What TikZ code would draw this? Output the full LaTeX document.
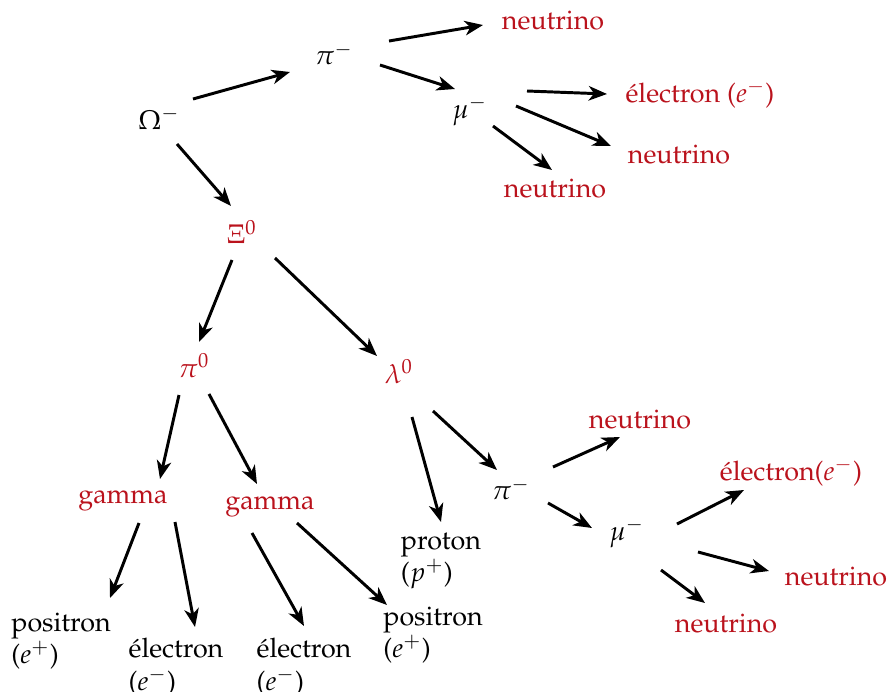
\documentclass[tikz,border=0pt]{standalone}
\usepackage[T1]{fontenc}
\usepackage{mathpazo}
\usetikzlibrary{arrows.meta}
\definecolor{pred}{RGB}{186,18,28}
\tikzset{
  lbl/.style={inner sep=0pt, outer sep=0pt, text=black},
  rlbl/.style={lbl, text=pred},
  arr/.style={line width=1.1pt, -{Stealth[length=6.8pt,width=5.4pt,inset=2pt]}}
}
\begin{document}
\begin{tikzpicture}[x=0.372pt,y=-0.372pt]
\useasboundingbox (0,0) rectangle (888,692);
% nodes
\node[lbl]  (om)   at (159,118) {$\Omega^-$};
\node[lbl]  (pia)  at (334,54)  {$\pi^-$};
\node[rlbl] (nua)  at (553,20)  {neutrino};
\node[lbl]  (mua)  at (470,111) {$\mu^-$};
\node[rlbl] (ela)  at (700,94)  {\'electron ($e^-$)};
\node[rlbl] (nub)  at (679,154) {neutrino};
\node[rlbl] (nuc)  at (555,188) {neutrino};
\node[rlbl] (xi)   at (242,232) {$\Xi^0$};
\node[rlbl] (piz)  at (194,366) {$\pi^0$};
\node[rlbl] (lam)  at (399,372) {$\lambda^0$};
\node[rlbl] (gaa)  at (123,501) {gamma};
\node[rlbl] (gab)  at (270,507) {gamma};
\node[lbl,align=left] (prot) at (441,561) {proton\\($p^+$)};
\node[lbl]  (pib)  at (511,489) {$\pi^-$};
\node[rlbl] (nud)  at (640,419) {neutrino};
\node[lbl]  (mub)  at (627,533) {$\mu^-$};
\node[rlbl] (elb)  at (791,472) {\'electron($e^-$)};
\node[rlbl] (nue)  at (836,576) {neutrino};
\node[rlbl] (nuf)  at (726,623) {neutrino};
\node[lbl,align=left] (posa) at (61,641)  {positron\\($e^+$)};
\node[lbl,align=left] (elc)  at (176,667) {\'electron\\($e^-$)};
\node[lbl,align=left] (eld)  at (304,667) {\'electron\\($e^-$)};
\node[lbl,align=left] (posb) at (433,635) {positron\\($e^+$)};
% connectors
\draw[arr] ([shift={(34,-19)}]om.center)  -- ([shift={(-44,18)}]pia.center);
\draw[arr] ([shift={(55,-13)}]pia.center) -- ([shift={(-70,5)}]nua.center);
\draw[arr] ([shift={(46,11)}]pia.center)  -- ([shift={(-15,-22)}]mua.center);
\draw[arr] ([shift={(57,-20)}]mua.center) -- ([shift={(-93,0)}]ela.center);
\draw[arr] ([shift={(46,-5)}]mua.center)  -- ([shift={(-68,-8)}]nub.center);
\draw[arr] ([shift={(23,15)}]mua.center)  -- ([shift={(-3,-18)}]nuc.center);
\draw[arr] ([shift={(18,26)}]om.center)   -- ([shift={(-11,-26)}]xi.center);
\draw[arr] ([shift={(-10,28)}]xi.center)  -- ([shift={(5,-24)}]piz.center);
\draw[arr] ([shift={(33,26)}]xi.center)   -- ([shift={(-22,-16)}]lam.center);
\draw[arr] ([shift={(-15,29)}]piz.center) -- ([shift={(37,-22)}]gaa.center);
\draw[arr] ([shift={(15,28)}]piz.center)  -- ([shift={(-13,-23)}]gab.center);
\draw[arr] ([shift={(16,22)}]gaa.center)  -- ([shift={(49,-43)}]posa.center);
\draw[arr] ([shift={(52,21)}]gaa.center)  -- ([shift={(19,-40)}]elc.center);
\draw[arr] ([shift={(-18,26)}]gab.center) -- ([shift={(0,-41)}]eld.center);
\draw[arr] ([shift={(27,16)}]gab.center)  -- ([shift={(-46,-30)}]posb.center);
\draw[arr] ([shift={(13,45)}]lam.center)  -- ([shift={(0,-39)}]prot.center);
\draw[arr] ([shift={(34,39)}]lam.center)  -- ([shift={(-14,-19)}]pib.center);
\draw[arr] ([shift={(42,-22)}]pib.center) -- ([shift={(-20,18)}]nud.center);
\draw[arr] ([shift={(37,14)}]pib.center)  -- ([shift={(-35,-5)}]mub.center);
\draw[arr] ([shift={(50,-9)}]mub.center)  -- ([shift={(-47,18)}]elb.center);
\draw[arr] ([shift={(71,19)}]mub.center)  -- ([shift={(-67,-5)}]nue.center);
\draw[arr] ([shift={(34,37)}]mub.center)  -- ([shift={(-21,-20)}]nuf.center);
\end{tikzpicture}
\end{document}
